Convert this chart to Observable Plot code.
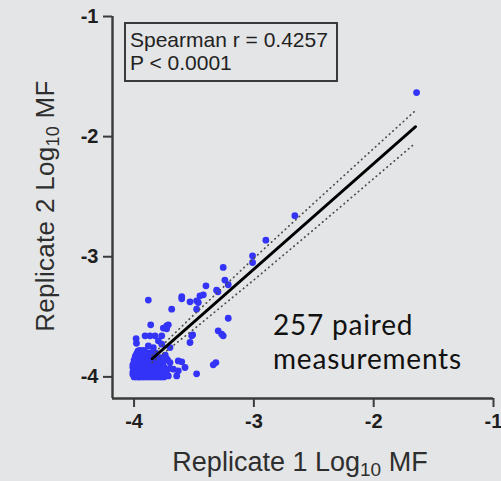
<!DOCTYPE html>
<html>
<head>
<meta charset="utf-8">
<script src="https://cdn.jsdelivr.net/npm/d3@7"></script>
<script src="https://cdn.jsdelivr.net/npm/@observablehq/plot@0.6"></script>
<style>
  html, body { margin: 0; padding: 0; background: #e4e5e6; }
  #chart { position: relative; width: 501px; height: 481px; }
  svg { display: block; }
</style>
</head>
<body>
<div id="chart"></div>
<script>
// Log10 mutant frequency, replicate 1 vs replicate 2, one dot per paired sample.

// Samples away from the background cluster: [replicate 1, replicate 2]
const outliers = [
  [-1.642, -1.633], [-2.658, -2.658], [-2.900, -2.862], [-3.011, -2.992], [-3.011, -3.048],
  [-3.256, -3.089], [-3.242, -3.194], [-3.214, -3.233], [-3.400, -3.242], [-3.311, -3.278],
  [-3.300, -3.292], [-3.602, -3.333], [-3.602, -3.350], [-3.450, -3.325], [-3.422, -3.317],
  [-3.478, -3.367], [-3.464, -3.381], [-3.533, -3.375], [-3.881, -3.361], [-3.686, -3.436],
  [-3.478, -3.436], [-3.214, -3.512], [-3.861, -3.567], [-3.728, -3.575], [-3.714, -3.567],
  [-3.756, -3.594], [-3.298, -3.617], [-3.269, -3.644], [-3.256, -3.658], [-3.511, -3.650],
  [-3.533, -3.714], [-3.983, -3.681], [-3.908, -3.658], [-3.867, -3.658], [-3.825, -3.658],
  [-3.769, -3.658], [-3.700, -3.756], [-3.602, -3.875], [-3.631, -3.950], [-3.478, -3.975],
  [-3.339, -3.900], [-3.317, -3.881], [-3.797, -3.700], [-3.769, -3.728], [-3.881, -3.742],
  [-3.839, -3.756], [-3.964, -3.783], [-3.728, -3.600], [-3.728, -3.850], [-3.700, -3.881],
  [-3.631, -3.867], [-3.672, -3.936], [-3.575, -3.922], [-3.644, -3.992], [-3.714, -3.992],
  [-3.519, -3.658], [-3.980, -3.720]
];

// Edge of the dense cluster near the detection floor
const clusterEdge = [
  [-3.74, -3.82], [-3.72, -3.86], [-3.75, -3.92], [-3.73, -3.97], [-3.70, -3.93], [-3.76, -3.88],
  [-3.78, -3.84], [-3.80, -3.86], [-4.00, -3.86], [-4.01, -3.90], [-3.85, -3.81], [-3.82, -3.80]
];

// Dense cluster: replicate 2 level, and the replicate 1 values found at that level
const clusterRep2 = [
  -4.00, -3.99, -3.98, -3.97, -3.96, -3.95, -3.94, -3.93, -3.92, -3.91, -3.90, -3.89,
  -3.88, -3.87, -3.86, -3.85, -3.84, -3.83, -3.82, -3.81, -3.80, -3.79, -3.78
];
const clusterRep1 = [
  [-4.00, -3.98, -3.96, -3.95, -3.93, -3.91, -3.89, -3.87, -3.85, -3.83, -3.81, -3.79, -3.77, -3.75],
  [-3.99, -3.97, -3.94, -3.92, -3.90, -3.88, -3.86, -3.84, -3.82, -3.80, -3.78],
  [-4.01, -3.98, -3.96, -3.93, -3.91, -3.89, -3.87, -3.85, -3.83, -3.81, -3.79, -3.76],
  [-4.00, -3.97, -3.95, -3.92, -3.90, -3.88, -3.86, -3.84, -3.82, -3.80],
  [-4.01, -3.98, -3.96, -3.94, -3.91, -3.89, -3.87, -3.85, -3.83, -3.81, -3.78, -3.74],
  [-3.99, -3.97, -3.95, -3.93, -3.90, -3.88, -3.86, -3.84, -3.82, -3.79],
  [-4.00, -3.98, -3.96, -3.93, -3.91, -3.89, -3.87, -3.85, -3.82, -3.80, -3.77],
  [-3.99, -3.97, -3.94, -3.92, -3.90, -3.88, -3.86, -3.83, -3.81],
  [-4.01, -3.98, -3.95, -3.93, -3.91, -3.89, -3.87, -3.84, -3.82, -3.79, -3.76],
  [-3.99, -3.96, -3.94, -3.92, -3.90, -3.88, -3.85, -3.83, -3.80],
  [-4.00, -3.97, -3.95, -3.93, -3.91, -3.89, -3.86, -3.84, -3.81, -3.78],
  [-3.98, -3.96, -3.94, -3.92, -3.90, -3.87, -3.85, -3.82],
  [-4.00, -3.97, -3.95, -3.93, -3.91, -3.88, -3.86, -3.83, -3.80, -3.77],
  [-3.99, -3.96, -3.94, -3.92, -3.89, -3.87, -3.84],
  [-3.98, -3.95, -3.93, -3.91, -3.88, -3.85, -3.82],
  [-3.99, -3.97, -3.94, -3.92, -3.90, -3.87, -3.84],
  [-3.98, -3.96, -3.93, -3.91, -3.88, -3.86, -3.83],
  [-3.99, -3.95, -3.92, -3.89, -3.86],
  [-3.97, -3.94, -3.91, -3.88, -3.85],
  [-3.98, -3.95, -3.92, -3.89],
  [-3.96, -3.93, -3.90, -3.87],
  [-3.97, -3.94, -3.91],
  [-3.95, -3.92]
];

// Linear fit and its 95% confidence band
const fitRep1 = [-3.85, -1.65];
const fitRep2 = [-3.85, -1.917];
const bandRep1 = [-3.85, -3.5, -3.0, -2.5, -2.0, -1.65];
const bandUpper = [-3.82, -3.482, -3.013, -2.554, -2.099, -1.782];
const bandLower = [-3.88, -3.602, -3.193, -2.774, -2.349, -2.052];

const axisTicks = [-4, -3, -2, -1];
const axisMin = -4.18;
const axisMax = -1;
const statLines = ["Spearman r = 0.4257", "P < 0.0001"];

const points = [
  ...clusterRep1.flatMap((row, i) => row.map(v => ({rep1: v, rep2: clusterRep2[i]}))),
  ...clusterEdge.map(([a, b]) => ({rep1: a, rep2: b})),
  ...outliers.map(([a, b]) => ({rep1: a, rep2: b}))
];
const fit = fitRep1.map((v, i) => ({rep1: v, rep2: fitRep2[i]}));
const upper = bandRep1.map((v, i) => ({rep1: v, rep2: bandUpper[i]}));
const lower = bandRep1.map((v, i) => ({rep1: v, rep2: bandLower[i]}));

const axisColor = "#3a3a3a";
const tickFont = {fontSize: 20, fontWeight: "bold", fontFamily: "'Liberation Sans', Arial, sans-serif"};
const dotted = {x: "rep1", y: "rep2", stroke: "#4a4a4a", strokeWidth: 1.7, strokeDasharray: "0.5 4.2", strokeLinecap: "round"};

const plot = Plot.plot({
  width: 501,
  height: 481,
  marginLeft: 112,
  marginRight: 8,
  marginTop: 16,
  marginBottom: 83,
  style: {background: "transparent", fontFamily: "'Liberation Sans', Arial, sans-serif", overflow: "visible"},
  x: {domain: [axisMin, axisMax]},
  y: {domain: [axisMin, axisMax]},
  marks: [
    Plot.dot(points, {x: "rep1", y: "rep2", r: 3.4, fill: "#3434f8", stroke: "none"}),
    Plot.line(upper, dotted),
    Plot.line(lower, dotted),
    Plot.line(fit, {x: "rep1", y: "rep2", stroke: "#000", strokeWidth: 2.8}),
    Plot.ruleX([axisMin], {stroke: axisColor, strokeWidth: 2.4}),
    Plot.ruleY([axisMin], {stroke: axisColor, strokeWidth: 2.4}),
    Plot.axisX({ticks: axisTicks, tickSize: 9, tickPadding: 6, tickFormat: d => String(d), label: null,
      stroke: axisColor, strokeWidth: 2, fill: "#1e1e1e", ...tickFont}),
    Plot.axisY({ticks: axisTicks, tickSize: 9, tickPadding: 5, tickFormat: d => String(d), label: null,
      stroke: axisColor, strokeWidth: 2, fill: "#1e1e1e", ...tickFont})
  ]
});

const svg = d3.select(plot);
const titleFont = "'Liberation Sans', Arial, sans-serif";

// Axis titles with subscript base
function axisTitle(sel, lead, size) {
  sel.attr("font-family", titleFont).attr("font-size", size).attr("fill", "#2e2e2e")
     .attr("text-anchor", "middle");
  sel.append("tspan").text(lead + " Log");
  sel.append("tspan").attr("font-size", Math.round(size * 0.7)).attr("dy", 5).text("10");
  sel.append("tspan").attr("dy", -5).text(" MF");
}
axisTitle(svg.append("text").attr("x", 300).attr("y", 471), "Replicate 1", 27);
axisTitle(svg.append("g").attr("transform", "translate(54,206) rotate(-90)").append("text")
  .attr("letter-spacing", 0.3), "Replicate 2", 26);

// Statistics box
const box = svg.append("g").attr("text-anchor", "start");
box.append("rect").attr("x", 125).attr("y", 23).attr("width", 212).attr("height", 58)
  .attr("fill", "none").attr("stroke", axisColor).attr("stroke-width", 2);
box.selectAll("text.stat").data(statLines).join("text")
  .attr("class", "stat")
  .attr("x", 130).attr("y", (d, i) => 47 + i * 23)
  .attr("text-anchor", "start")
  .attr("font-family", titleFont).attr("font-size", 21).attr("fill", "#222")
  .text(d => d);

// Sample count note, two lines
const noteLines = [`${points.length} paired`, "measurements"];
svg.append("g").selectAll("text.note").data(noteLines).join("text")
  .attr("class", "note")
  .attr("x", 273).attr("y", (d, i) => 335 + i * 34)
  .attr("text-anchor", "start")
  .attr("font-family", "Lato, 'Open Sans', sans-serif")
  .attr("font-size", 28).attr("letter-spacing", 0.8).attr("fill", "#111")
  .text(d => d);

document.getElementById("chart").appendChild(plot);
</script>
</body>
</html>
